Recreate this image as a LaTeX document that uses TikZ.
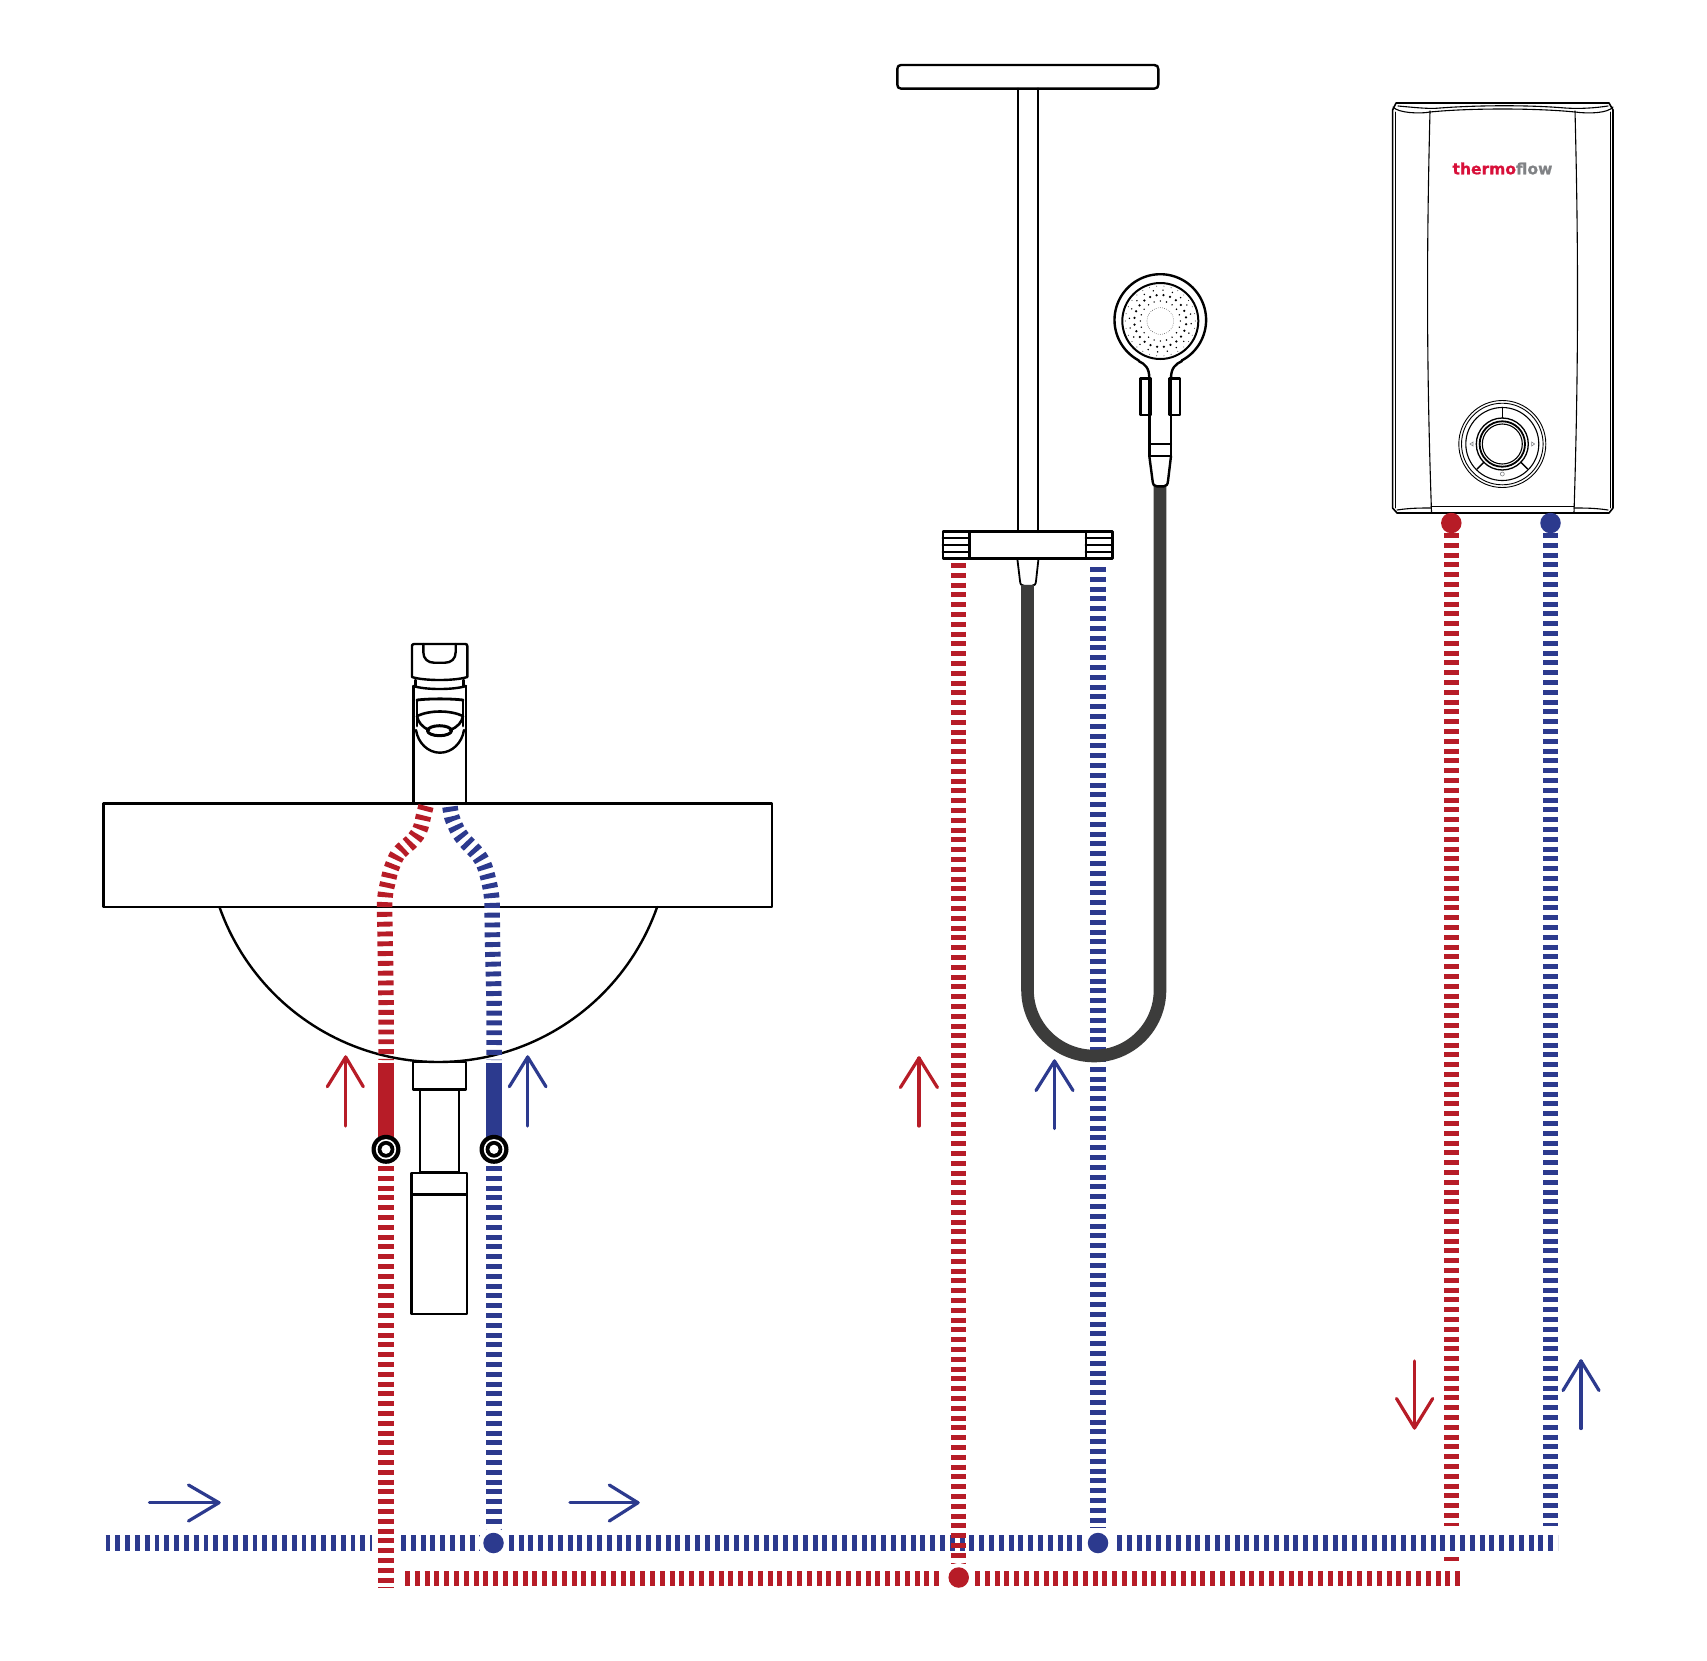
\documentclass[tikz,border=0pt]{standalone}
\usepackage{fontspec}
\newfontfamily\logofont[UprightFont=* Bold,FakeBold=0.8]{DejaVu Sans}
\definecolor{pred}{HTML}{B71C27}
\definecolor{pblue}{HTML}{2C3A8E}
\definecolor{hosec}{HTML}{3C3C3B}
\definecolor{logored}{HTML}{D8103A}
\definecolor{logogrey}{HTML}{808285}
\tikzset{
  redpipe/.style={draw=pred,line width=15.5pt,dash pattern=on 4.9pt off 4.9pt},
  bluepipe/.style={draw=pblue,line width=15.5pt,dash pattern=on 4.9pt off 4.9pt},
  redsolid/.style={draw=pred,line width=15.5pt},
  bluesolid/.style={draw=pblue,line width=15.5pt},
  outline/.style={draw=black,line width=2.4pt,line join=round,line cap=round},
  thinline/.style={draw=black,line width=1.1pt,line join=round,line cap=round},
  flow/.style={line width=3.2pt,line cap=round,line join=round},
  reddot/.style={circle,fill=pred,inner sep=0pt,minimum size=20.5pt},
  bluedot/.style={circle,fill=pblue,inner sep=0pt,minimum size=20.5pt},
}
\begin{document}
\begin{tikzpicture}[x=1pt,y=-1pt]
\useasboundingbox (0,0) rectangle (1707,1660);
\fill[white] (0,0) rectangle (1707,1660);

% junctions
\coordinate (bl0) at (105.5,1543);
\coordinate (bl1) at (372,1543);
\coordinate (bl2) at (401,1543);
\coordinate (bl3) at (1082,1543);
\coordinate (bl4) at (1117,1543);
\coordinate (bl5) at (1558,1543);
\coordinate (rl1) at (405,1578.5);
\coordinate (rl2) at (942,1578.5);
\coordinate (rl3) at (975,1578.5);
\coordinate (rl4) at (1460,1578.5);

% mains
\draw[bluepipe] (bl0) -- (bl1);
\draw[bluepipe] (bl2) -- (bl3);
\draw[bluepipe] (bl4) -- (bl5);
\draw[redpipe] (rl1) -- (rl2);
\draw[redpipe] (rl3) -- (rl4);

% sink
\draw[outline] (103.5,803.5) rectangle (772,907);
\draw[outline] plot[domain=19.4:160.6,samples=90] ({438.3+232*cos(\x)},{830+232*sin(\x)});

% siphon
\draw[outline] (412.7,1062) rectangle (466,1089.3);
\draw[outline] (420,1089.3) rectangle (458.7,1171.7);
\draw[outline] (411.3,1172.7) rectangle (466.7,1314);
\draw[outline] (411.3,1194.3) -- (466.7,1194.3);

% faucet
\draw[outline] (414,644) -- (465.3,644) .. controls (466.8,644) and (467.3,645) .. (467.3,646) -- (467.3,677) .. controls (455,681) and (424,681) .. (412,677) -- (412,646) .. controls (412,645) and (412.5,644) .. (414,644);
\draw[outline] (423.3,644) -- (423.3,652) .. controls (423.3,659) and (428,662.7) .. (434,662.7) -- (445,662.7) .. controls (451,662.7) and (455.7,659) .. (455.7,652) -- (455.7,644);
\draw[outline] (415.5,680) -- (415.5,686);
\draw[outline] (463.5,680) -- (463.5,686);
\draw[outline] (413.5,686) .. controls (425,690) and (454,690) .. (466,686);
\draw[outline] (413.5,686) -- (413.5,803.5);
\draw[outline] (466,686) -- (466,803.5);
\draw[outline,line width=2.8pt] (417,700) .. controls (430,698.5) and (450,698.5) .. (463,700);
\draw[outline,line width=2.8pt] (417,700) -- (417,726);
\draw[outline,line width=2.8pt] (463,700) -- (463,726);
\draw[outline,line width=2.6pt] (417,716) .. controls (430,710) and (450,710) .. (463,716);
\draw[outline,line width=2.6pt] (417,716) .. controls (418,722) and (422,727) .. (429,730);
\draw[outline,line width=2.6pt] (463,716) .. controls (462,722) and (458,727) .. (450,730);
\draw[outline,line width=3pt] (439.5,730.7) ellipse (12 and 5);
\draw[outline] (416,730) .. controls (418,743) and (428,752.7) .. (440,752.7) .. controls (452,752.7) and (462,743) .. (464,730);

% sink pipes
\draw[redpipe] plot[smooth,tension=.6] coordinates {(426,806) (423.3,816.7) (421,826.7) (417.3,834.5) (411,842) (404,848) (397.3,855) (392.7,865) (390,873) (387.7,883) (385.7,892) (384.7,902) (384.5,912) (385,932) (386,1000) (386,1060)};
\draw[bluepipe] plot[smooth,tension=.6] coordinates {(450,806.7) (451.7,816.7) (455,825) (459,833) (465,840.7) (472.3,848.3) (478.3,855) (483.3,863) (486.7,873) (489,882) (491,892) (492,902) (492.2,912) (492.5,940) (494,1000) (494,1060)};
\draw[redsolid] (386,1062.7) -- (386,1138);
\draw[bluesolid] (494,1062.7) -- (494,1138);
\coordinate (rv0) at (386,1166);
\coordinate (rv1) at (386,1588);
\coordinate (bv0) at (494,1166);
\coordinate (bv1) at (494,1529);
\draw[redpipe] (rv0) -- (rv1);
\draw[bluepipe] (bv0) -- (bv1);
\fill[white] (493.5,1543) circle (15.5);
\foreach \vx in {386,494}{
  \fill[black] (\vx,1149.3) circle (14.5);
  \fill[white] (\vx,1149.3) circle (10.2);
  \fill[black] (\vx,1149.3) circle (8.4);
  \fill[white] (\vx,1149.3) circle (4.6);
}

% shower rail
\draw[outline] (901,65) -- (1154.3,65) .. controls (1157,65) and (1158.3,66.5) .. (1158.3,69) -- (1158.3,84.6) .. controls (1158.3,87) and (1157,88.6) .. (1154.3,88.6) -- (901,88.6) .. controls (898.5,88.6) and (897.3,87) .. (897.3,84.6) -- (897.3,69) .. controls (897.3,66.5) and (898.5,65) .. (901,65);
\draw[outline,line width=1.8pt] (1018,88.6) -- (1018,532);
\draw[outline] (1038,88.6) -- (1038,532);
\draw[outline] (942.7,531.5) rectangle (1112.3,558.6);
\draw[outline] (969.3,531.5) -- (969.3,558.6);
\draw[outline] (1085.7,531.5) -- (1085.7,558.6);
\foreach \hy in {537.5,544.6,551.8}{
  \draw[outline,line width=2pt] (942.7,\hy) -- (969.3,\hy);
  \draw[outline,line width=2pt] (1085.7,\hy) -- (1112.3,\hy);
}
\draw[outline,line width=1.8pt] (1017.3,558.6) -- (1020,581) .. controls (1020.3,584.5) and (1021.5,585.7) .. (1024,585.7) -- (1032,585.7) .. controls (1034.5,585.7) and (1035.7,584.5) .. (1036,581) -- (1038.5,558.6);

% shower pipes
\coordinate (sr0) at (958.5,563);
\coordinate (sr1) at (958.5,1563);
\coordinate (sb0) at (1098,567);
\coordinate (sb1) at (1098,1528);
\draw[redpipe] (sr0) -- (sr1);
\draw[bluepipe] (sb0) -- (sb1);

% hose
\draw[hosec,line width=12.6pt] (1027.5,585) -- (1027.5,990) .. controls (1027.5,1026.5) and (1057.5,1056) .. (1094,1056) .. controls (1130.5,1056) and (1160,1026.5) .. (1160,990) -- (1160,485);

% hand shower
\draw[outline] plot[domain=118:422,samples=120] ({1160.3+45.8*cos(\x)},{320+45.8*sin(\x)});
\draw[outline,line width=2pt] (1160.3,321) circle (38);
\draw[outline] (1138.6,361) .. controls (1145,364) and (1149.3,368) .. (1149.3,378);
\draw[outline] (1182,361) .. controls (1175.6,364) and (1171,368) .. (1171,378);
\draw[outline] (1140.5,378.6) rectangle (1151,415);
\draw[outline] (1169.3,378.6) rectangle (1180.2,415);
\draw[outline] (1149.3,378) -- (1149.3,456);
\draw[outline] (1171,378) -- (1171,456);
\draw[outline] (1149.3,444) -- (1171,444);
\draw[outline] (1149.3,456) -- (1171,456);
\draw[outline] (1149.3,456) -- (1152.6,481) .. controls (1153,484.5) and (1154,486.4) .. (1157,486.4) -- (1163.5,486.4) .. controls (1166.5,486.4) and (1167.6,484.5) .. (1168,481) -- (1171,456);
\foreach \a in {0,15,...,345}{
  \fill[black] ({1160.3+26*cos(\a+7)},{321+26*sin(\a+7)}) circle (1.25);
}
\foreach \a in {0,18,...,342}{
  \fill[black] ({1160.3+20*cos(\a)},{321+20*sin(\a)}) circle (.8);
  \fill[black] ({1160.3+31*cos(\a+5)},{321+31*sin(\a+5)}) circle (.8);
}
\foreach \a in {0,12,...,348}{
  \fill[black] ({1160.3+35*cos(\a)},{321+35*sin(\a)}) circle (.45);
}
\foreach \a in {0,9,...,351}{
  \fill[black] ({1160.3+13.3*cos(\a)},{321+13.3*sin(\a)}) circle (.35);
}

% heater
\draw[outline,line width=1.6pt] (1392.6,110) -- (1396,103) -- (1609,103) -- (1613,110) -- (1613,508) -- (1609,513) -- (1397,513) -- (1392.6,508) -- cycle;
\draw[thinline,line width=.9pt] (1395.5,112) -- (1395.5,508);
\draw[thinline,line width=.9pt] (1610.5,112) -- (1610.5,508);
\draw[thinline] (1430,111) .. controls (1426.5,250) and (1426.5,370) .. (1431.5,512);
\draw[thinline] (1575,111) .. controls (1578.5,250) and (1578.5,370) .. (1574,512);
\draw[thinline] (1393,107) .. controls (1398,113) and (1420,114) .. (1430,112) .. controls (1470,108) and (1535,108) .. (1575,112) .. controls (1590,114) and (1608,113) .. (1613,107);
\draw[thinline] (1398,106) .. controls (1420,108) and (1430,109) .. (1440,108) .. controls (1480,105) and (1530,105) .. (1565,108) .. controls (1580,109) and (1595,108) .. (1608,106);
\draw[thinline] (1431,506.5) -- (1574,506.5);
\draw[thinline] (1397,510) .. controls (1410,508) and (1420,508) .. (1431,508);
\draw[thinline] (1608,510) .. controls (1595,508) and (1585,508) .. (1574,508);
\node[inner sep=0pt,font=\logofont\fontsize{15.5}{16}\selectfont] (logo) at (1502.5,168.5) {\textcolor{logored}{thermo}\textcolor{logogrey}{flow}};
% dial
\coordinate (dial) at (1502.3,444);
\draw[thinline,line width=.9pt] (dial) circle (43.5);
\draw[thinline,line width=.9pt] (dial) circle (40.8);
\draw[thinline] (dial) circle (36.5);
\draw[thinline,line width=1.3pt] (dial) circle (26);
\draw[outline,line width=1.8pt] (dial) circle (22.7);
\draw[thinline] (dial) circle (20);
\draw[outline,line width=1.4pt] (1502.3,407.5) -- (1502.3,418);
\draw[outline,line width=1.4pt] (1477,469) -- (1484,462);
\draw[outline,line width=1.4pt] (1527.6,469) -- (1520.6,462);
\draw[logogrey,line width=.6pt] (1470,444) -- (1473,442) -- (1473,446) -- cycle;
\draw[logogrey,line width=.6pt] (1534.6,444) -- (1531.6,442) -- (1531.6,446) -- cycle;
\draw[logogrey,line width=.6pt] (1502.3,474) circle (2);

% heater pipes and ports
\coordinate (hr0) at (1451.5,533);
\coordinate (hr1) at (1451.5,1526);
\coordinate (hb0) at (1550.5,533);
\coordinate (hb1) at (1550.5,1526);
\draw[redpipe] (hr0) -- (hr1);
\draw[bluepipe] (hb0) -- (hb1);
\draw[redsolid] (1451.5,1557) -- (1451.5,1561);
\node[reddot] (hrdot) at (1451.3,523) {};
\node[bluedot] (hbdot) at (1550.5,523) {};
\node[bluedot] (d1) at (493.5,1543) {};
\node[bluedot] (d2) at (1098,1543) {};
\fill[white] (958.7,1577.5) circle (14.5);
\node[reddot] (d3) at (958.7,1577.5) {};

% flow arrows
\draw[pred,flow] (345.7,1126) -- (345.7,1057);
\draw[pred,flow] (327.3,1086.7) -- (345.7,1057) -- (363.3,1086.7);
\draw[pblue,flow] (527.7,1126) -- (527.7,1057);
\draw[pblue,flow] (509.3,1086.7) -- (527.7,1057) -- (546,1086.7);
\draw[pred,flow] (919,1126) -- (919,1058);
\draw[pred,flow] (900.4,1087.5) -- (919,1058) -- (937.4,1087.5);
\draw[pblue,flow] (1054.5,1128.5) -- (1054.5,1061);
\draw[pblue,flow] (1036,1090.5) -- (1054.5,1061) -- (1073,1090.5);
\draw[pred,flow] (1414.5,1361) -- (1414.5,1428);
\draw[pred,flow] (1396.5,1398.5) -- (1414.5,1428) -- (1432.7,1398.5);
\draw[pblue,flow] (1581,1428.5) -- (1581,1361);
\draw[pblue,flow] (1563,1390.5) -- (1581,1361) -- (1599,1390.5);
\draw[pblue,flow] (149.5,1502.7) -- (219,1502.7);
\draw[pblue,flow] (188.5,1485) -- (219,1502.7) -- (188.5,1521);
\draw[pblue,flow] (570,1502.7) -- (638,1502.7);
\draw[pblue,flow] (609.3,1485) -- (638,1502.7) -- (609.3,1521);
\end{tikzpicture}
\end{document}
